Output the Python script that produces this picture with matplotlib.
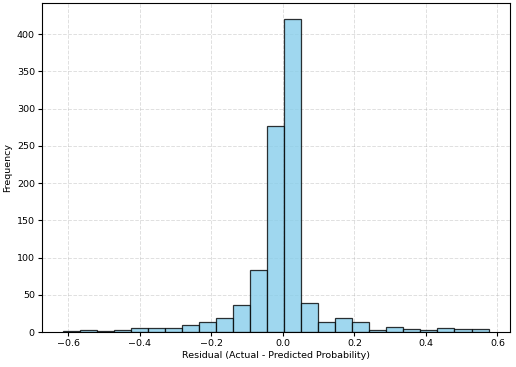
import numpy as np
import matplotlib
matplotlib.use('Agg')
import matplotlib.pyplot as plt

# residual histogram, 25 bins
bin_lo = -0.615
bin_hi = 0.575
n_bins = 25
counts = [1, 3, 1, 3, 6, 6, 6, 10, 14, 19, 36, 83, 277, 421,
          39, 14, 19, 13, 3, 7, 4, 3, 6, 4, 4]

edges = np.linspace(bin_lo, bin_hi, n_bins + 1)
centers = (edges[:-1] + edges[1:]) / 2

fig = plt.figure(figsize=(5.16, 3.67), dpi=100)
ax = fig.add_axes([0.081, 0.095, 0.907, 0.897])
ax.hist(centers, bins=edges, weights=counts, color='skyblue',
        edgecolor='black', alpha=0.8, linewidth=0.9)
ax.set_xlabel('Residual (Actual - Predicted Probability)', fontsize=6.8, labelpad=2)
ax.set_ylabel('Frequency', fontsize=6.8, labelpad=3)
ax.tick_params(labelsize=6.8, length=3, pad=2)
ax.grid(True, linestyle='--', alpha=0.4, linewidth=0.7)
ax.set_axisbelow(True)
fig.savefig('out.png', dpi=100)
